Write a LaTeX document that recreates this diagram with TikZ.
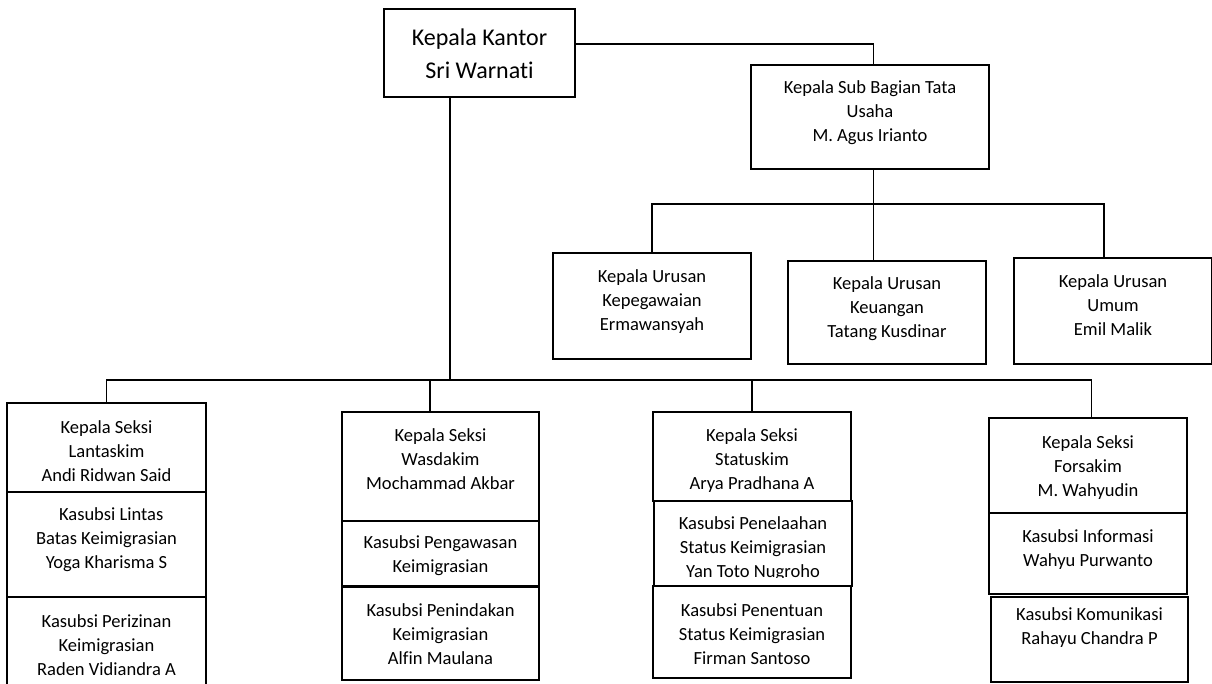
\documentclass[tikz,border=0pt]{standalone}
\usepackage{fontspec}
\setmainfont{Carlito}[Ligatures=NoCommon]
\usetikzlibrary{fit}
\tikzset{
  orgbox/.style={draw, line width=0.85pt, inner sep=0pt},
  orgtxt/.style={align=center, font=\fontsize{13.9}{18}\selectfont, inner sep=0pt},
  bigtxt/.style={align=center, font=\fontsize{18}{24.75}\selectfont, inner sep=0pt},
  link/.style={line width=0.85pt}
}
\begin{document}
\begin{tikzpicture}[x=0.75pt,y=-0.75pt]
\useasboundingbox (0,0) rectangle (1212,684);
\clip (0,0) rectangle (1212,684);
% top
\node[orgbox, fit={(384,9) (575,97)}] (kk) {};
\node[bigtxt] (kk-t) at (479.5,54) {Kepala Kantor\\Sri Warnati};
\node[orgbox, fit={(751,65) (989,169)}] (sb) {};
\node[orgtxt] (sb-t) at (870,113) {Kepala Sub Bagian Tata\\Usaha\\M. Agus Irianto};
% urusan
\node[orgbox, fit={(553,253) (751,359)}] (kep) {};
\node[orgtxt] (kep-t) at (652,301.5) {Kepala Urusan\\Kepegawaian\\Ermawansyah};
\node[orgbox, fit={(788,261) (986,364)}] (keu) {};
\node[orgtxt] (keu-t) at (887,308.5) {Kepala Urusan\\Keuangan\\Tatang Kusdinar};
\node[orgbox, fit={(1014,258) (1211.5,364)}] (umum) {};
\node[orgtxt] (umum-t) at (1113,305.5) {Kepala Urusan\\Umum\\Emil Malik};
% Lantaskim
\node[orgbox, fit={(7,403) (206,492)}] (l1) {};
\node[orgtxt] (l1-t) at (106.5,451.5) {Kepala Seksi\\Lantaskim\\Andi Ridwan Said};
\node[orgbox, fit={(7,492) (206,597)}] (l2) {};
\node[orgtxt] (l2-t) at (106.5,539.5) {\hspace{7pt}Kasubsi Lintas\\Batas Keimigrasian\\Yoga Kharisma S};
\node[orgbox, fit={(7,597) (206,700)}] (l3) {};
\node[orgtxt] (l3-t) at (106.5,645.5) {Kasubsi Perizinan\\Keimigrasian\\Raden Vidiandra A};
% Wasdakim
\node[orgbox, fit={(342,412) (539,521)}] (w1) {};
\node[orgtxt] (w1-t) at (440.5,459.5) {Kepala Seksi\\Wasdakim\\Mochammad Akbar};
\node[orgbox, fit={(342,521) (539,585.5)}] (w2) {};
\node[orgtxt] (w2-t) at (440.5,556) {Kasubsi Pengawasan\\Keimigrasian};
\node[orgbox, fit={(342,587) (539,680)}] (w3) {};
\node[orgtxt] (w3-t) at (440.5,634.5) {Kasubsi Penindakan\\Keimigrasian\\Alfin Maulana};
% Statuskim
\node[orgbox, fit={(653,412) (851,501)}] (s1) {};
\node[orgtxt] (s1-t) at (752,460.5) {Kepala Seksi\\Statuskim\\Arya Pradhana A};
\node[orgbox, fit={(654,501) (852,586)}] (s2) {};
\begin{scope}
  \clip (654,501) rectangle (852,577);
  \node[orgtxt] (s2-t) at (753,549) {Kasubsi Penelaahan\\Status Keimigrasian\\Yan Toto Nugroho};
\end{scope}
\node[orgbox, fit={(653,586) (851,678)}] (s3) {};
\node[orgtxt] (s3-t) at (752,634.5) {Kasubsi Penentuan\\Status Keimigrasian\\Firman Santoso};
% Forsakim
\node[orgbox, fit={(989,418) (1187,513)}] (f1) {};
\node[orgtxt] (f1-t) at (1088,467.5) {Kepala Seksi\\Forsakim\\M. Wahyudin};
\node[orgbox, fit={(989,513) (1187,594)}] (f2) {};
\node[orgtxt] (f2-t) at (1088,550) {Kasubsi Informasi\\Wahyu Purwanto};
\node[orgbox, fit={(991,597) (1188,682)}] (f3) {};
\node[orgtxt] (f3-t) at (1089.5,628) {Kasubsi Komunikasi\\Rahayu Chandra P};
% helper coordinates
\coordinate (y44) at (0,44);
\coordinate (ytop) at (0,204);
\coordinate (ybus) at (0,380);
\coordinate (xk) at (450,0);
\coordinate (xw) at (430,0);
\coordinate (xsb) at (873.5,0);
\coordinate (xu) at (1104,0);
\coordinate (xf) at (1091.5,0);
% connectors
\draw[link] (kk.east |- y44) -| (xsb |- sb.north);
\draw[link] (xsb |- sb.south) -- (xsb |- ytop);
\draw[link] (kep.north) -- (kep.north |- ytop) -- (xu |- ytop) -- (xu |- umum.north);
\draw[link] (xsb |- ytop) -- (xsb |- keu.north);
\draw[link] (xk |- kk.south) -- (xk |- ybus);
\draw[link] (l1.north) -- (l1.north |- ybus) -- (xf |- ybus) -- (xf |- f1.north);
\draw[link] (xw |- ybus) -- (xw |- w1.north);
\draw[link] (s1.north |- ybus) -- (s1.north);
\end{tikzpicture}
\end{document}
